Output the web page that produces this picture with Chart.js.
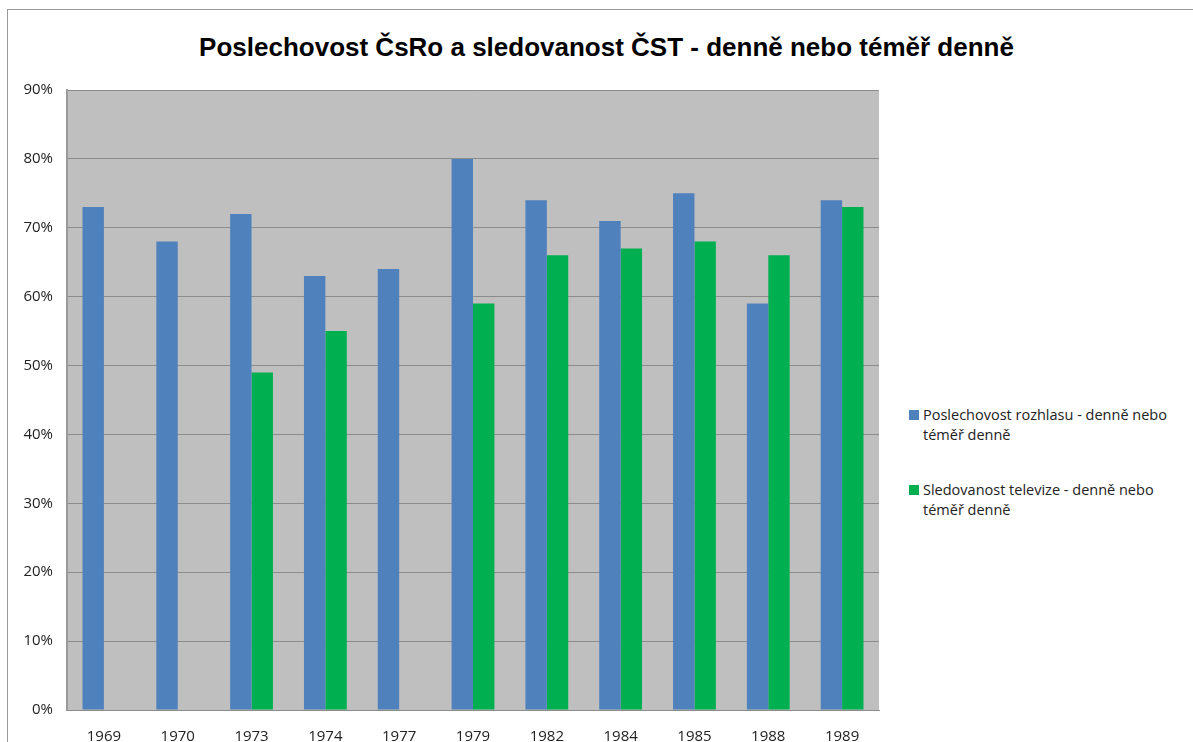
<!DOCTYPE html>
<html>
<head>
<meta charset="utf-8">
<script src="https://cdn.jsdelivr.net/npm/chart.js@4.4.1/dist/chart.umd.min.js"></script>
<style>
  body { margin: 0; background: #fff; overflow: hidden; }
  #wrap { position: relative; width: 1193px; height: 742px; }
  #frame { position: absolute; left: 7px; top: 9px; width: 1300px; height: 800px; border: 1px solid #9a9a9a; }
  #title { position: absolute; left: 0; width: 1213px; top: 32px; text-align: center;
           font: bold 26px "Liberation Sans", Arial, sans-serif; color: #000; }
  .leg { position: absolute; left: 909px; font: 14.5px "Open Sans", "Liberation Sans", sans-serif; color: #222; line-height: 20px; }
  .leg span { position: absolute; left: 0; top: 5px; width: 10px; height: 10px; }
  .leg div { margin-left: 14px; }
  canvas { position: absolute; left: 0; top: 0; }
</style>
</head>
<body>
<div id="wrap">
  <div id="frame"></div>
  <div id="title">Poslechovost ČsRo a sledovanost ČST - denně nebo téměř denně</div>
  <div class="leg" style="top:405px"><span style="background:#4f81bd"></span><div>Poslechovost rozhlasu - denně nebo<br>téměř denně</div></div>
  <div class="leg" style="top:480px"><span style="background:#00b050"></span><div>Sledovanost televize - denně nebo<br>téměř denně</div></div>
  <canvas id="chart" width="1193" height="742"></canvas>
</div>
<script>
const years = ['1969', '1970', '1973', '1974', '1977', '1979', '1982', '1984', '1985', '1988', '1989'];
const radio = [73, 68, 72, 63, 64, 80, 74, 71, 75, 59, 74];
const tv = [null, null, 49, 55, null, 59, 66, 67, 68, 66, 73];

const plotBg = {
  id: 'plotBg',
  beforeDraw(chart) {
    const a = chart.chartArea;
    const c = chart.ctx;
    c.save();
    c.fillStyle = '#bfbfbf';
    c.fillRect(a.left, a.top, a.right - a.left, a.bottom - a.top);
    c.restore();
  }
};

new Chart(document.getElementById('chart').getContext('2d'), {
  type: 'bar',
  data: {
    labels: years,
    datasets: [
      { label: 'Poslechovost rozhlasu - denně nebo téměř denně', data: radio, backgroundColor: '#4f81bd' },
      { label: 'Sledovanost televize - denně nebo téměř denně', data: tv, backgroundColor: '#00b050' }
    ]
  },
  options: {
    responsive: false,
    animation: false,
    layout: { padding: { top: 90, right: 314, left: 0, bottom: 0 } },
    datasets: { bar: { barPercentage: 1, categoryPercentage: 0.58 } },
    plugins: { legend: { display: false }, tooltip: { enabled: false } },
    scales: {
      y: {
        min: 0, max: 90,
        afterFit(s) { s.width = 67; },
        ticks: { stepSize: 10, padding: 14, color: '#222', font: { family: 'Open Sans', size: 15 },
                 callback: v => v + '%' },
        grid: { color: '#8c8c8c', lineWidth: 1, drawTicks: false },
        border: { color: '#9a9a9a', width: 2 }
      },
      x: {
        afterFit(s) { s.height = 32; },
        ticks: { padding: 18, color: '#222', font: { family: 'Open Sans', size: 15 } },
        grid: { display: false, drawTicks: false },
        border: { color: '#8c8c8c', width: 1 }
      }
    }
  },
  plugins: [plotBg]
});
</script>
</body>
</html>
